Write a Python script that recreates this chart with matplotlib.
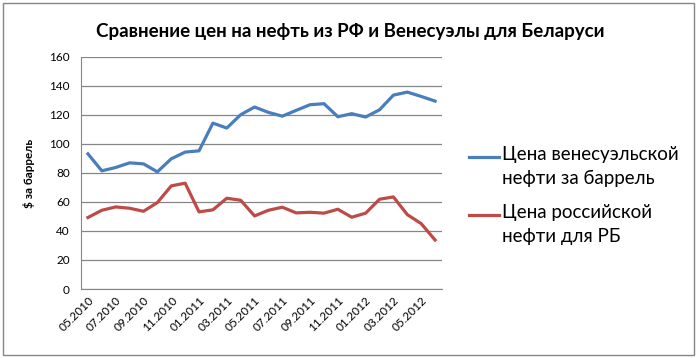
import matplotlib
matplotlib.use("Agg")
import matplotlib.pyplot as plt
from matplotlib.patches import Rectangle
from matplotlib.lines import Line2D

months = ["05.2010", "06.2010", "07.2010", "08.2010", "09.2010", "10.2010", "11.2010", "12.2010",
          "01.2011", "02.2011", "03.2011", "04.2011", "05.2011", "06.2011", "07.2011", "08.2011",
          "09.2011", "10.2011", "11.2011", "12.2011", "01.2012", "02.2012", "03.2012", "04.2012",
          "05.2012", "06.2012"]
venezuela = [93.2, 81.5, 83.8, 87.0, 86.3, 80.8, 89.8, 94.4, 95.3, 114.4, 111.0, 120.2, 125.5,
             121.8, 119.2, 123.2, 127.1, 127.8, 118.8, 120.9, 118.6, 123.6, 133.7, 135.8, 132.8, 129.6]
russia = [49.3, 54.3, 56.6, 55.7, 53.6, 59.6, 71.1, 73.0, 53.2, 54.6, 62.6, 61.2, 50.4, 54.3,
          56.4, 52.5, 52.9, 52.3, 55.0, 49.5, 52.3, 61.9, 63.5, 51.3, 45.1, 33.8]
series_names = ["Цена венесуэльской\nнефти за баррель", "Цена российской\nнефти для РБ"]
title = "Сравнение цен на нефть из РФ и Венесуэлы для Беларуси"
ylabel = "$ за баррель"
colors = ["#4a7ebb", "#be4b48"]

plt.rcParams['font.family'] = ['Lato', 'DejaVu Sans']

W, H = 697, 358
fig = plt.figure(figsize=(W / 100, H / 100), dpi=100)
ax = fig.add_axes([81 / W, 1 - 289 / H, (442 - 81) / W, (289 - 57) / H])

x = list(range(len(months)))
ax.plot(x, venezuela, color=colors[0], lw=2.3, label=series_names[0])
ax.plot(x, russia, color=colors[1], lw=2.3, label=series_names[1])

ax.set_ylim(0, 160)
ax.set_yticks(range(0, 161, 20))
ax.set_xlim(-0.5, len(months) - 0.5)
ax.set_xticks(x[::2])
ax.set_xticklabels(months[::2], rotation=45, ha="right", rotation_mode="anchor", fontsize=8.5)
ax.tick_params(axis="x", length=0, pad=4)
ax.tick_params(axis="y", length=0, pad=8, labelsize=8.5)
ax.grid(axis="y", color="#868686", lw=0.9)
ax.set_axisbelow(True)
for s in ["top", "right"]:
    ax.spines[s].set_visible(False)
ax.spines["left"].set_color("#868686")
ax.spines["bottom"].set_color("#868686")

ax.set_ylabel(ylabel, fontsize=8.5, fontweight="bold", labelpad=10)

fig.text(350 / W, 1 - 31 / H, title, ha="center", va="center", fontsize=13.5, fontweight="bold")

# legend (handle aligned with the first text line, as in the reference)
legend_y = [157, 215]
for name, col, yy in zip(series_names, colors, legend_y):
    fig.add_artist(Line2D([469 / W, 499 / W], [1 - yy / H, 1 - yy / H], color=col, lw=2.3,
                          transform=fig.transFigure))
    fig.text(502 / W, 1 - (yy - 11) / H, name, ha="left", va="top", fontsize=13.5, linespacing=1.5)

fig.patches.append(Rectangle((3 / W, 3 / H), (694 - 3) / W, (355 - 3) / H, transform=fig.transFigure,
                             fill=False, edgecolor="#868686", lw=1))

fig.savefig("out.png", dpi=100, facecolor="white")
